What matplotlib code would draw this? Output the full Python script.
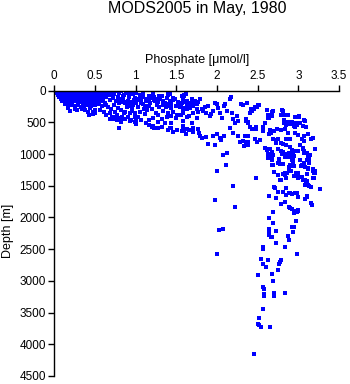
import matplotlib
matplotlib.use("Agg")
import matplotlib.pyplot as plt
import numpy as np

plt.rcParams['font.family'] = ['Liberation Sans', 'DejaVu Sans']

# Phosphate [umol/l] and depth [m] of the individual samples, grouped by layer
surf_p = [0.02, 0.05, 0.08, 0.11, 0.14, 0.17, 0.20, 0.23, 0.26, 0.29, 0.32, 0.35, 0.38, 0.41, 0.44, 0.47, 0.50, 0.53, 0.56, 0.60, 0.63, 0.67, 0.72, 0.76, 0.82, 0.88, 0.91,
          0.03, 0.06, 0.09, 0.12, 0.15, 0.18, 0.21, 0.24, 0.27, 0.30, 0.33, 0.36, 0.39, 0.42, 0.45, 0.48, 0.51, 0.54, 0.57, 0.61, 0.64, 0.68, 0.74,
          0.04, 0.07, 0.10, 0.13, 0.16, 0.19, 0.22, 0.25, 0.28, 0.31, 0.34, 0.37, 0.40, 0.43, 0.46, 0.49, 0.52, 0.55, 0.58, 0.62, 0.66, 0.70,
          0.06, 0.09, 0.12, 0.15, 0.18, 0.21, 0.24, 0.27, 0.30, 0.33, 0.36, 0.39, 0.42, 0.45, 0.48, 0.51, 0.54, 0.58, 0.63,
          0.08, 0.11, 0.14, 0.17, 0.20, 0.23, 0.27, 0.30, 0.33, 0.36, 0.40, 0.44, 0.47, 0.50, 0.55, 0.60,
          0.10, 0.14, 0.18, 0.22, 0.26, 0.30, 0.35, 0.38, 0.43, 0.48, 0.52, 0.57, 0.62,
          0.13, 0.17, 0.21, 0.25, 0.29, 0.33, 0.36, 0.41, 0.45, 0.50, 0.55, 0.59, 0.64,
          0.17, 0.19, 0.26, 0.28, 0.34, 0.38, 0.44, 0.48, 0.50, 0.56, 0.61, 0.42,
          0.43, 0.50, 0.47]
surf_d = [5, 0, 10, 3, 8, 0, 12, 4, 9, 0, 6, 11, 2, 8, 0, 10, 5, 0, 9, 3, 12, 0, 8, 2, 5, 10, 0,
          35, 30, 42, 38, 30, 45, 35, 40, 32, 44, 36, 30, 42, 38, 33, 45, 30, 40, 35, 44, 31, 38, 42,
          65, 75, 62, 70, 80, 66, 72, 60, 78, 68, 74, 62, 80, 70, 64, 76, 68, 72, 60, 78, 66, 74,
          100, 110, 96, 105, 115, 100, 108, 95, 112, 102, 110, 98, 106, 115, 100, 108, 96, 112, 104,
          135, 145, 130, 140, 150, 135, 142, 130, 148, 138, 145, 132, 150, 140, 135, 146,
          170, 185, 175, 195, 168, 182, 190, 172, 185, 178, 196, 170, 188,
          215, 250, 230, 240, 220, 255, 235, 225, 245, 230, 215, 250, 228,
          278, 315, 290, 304, 285, 304, 280, 331, 310, 304, 331, 340,
          383, 357, 370]

mix_p = [0.68, 0.73, 0.75, 0.69, 0.71, 0.75, 0.77, 0.79, 0.82, 0.83, 0.87, 0.89, 0.88, 0.93, 0.95, 0.97, 0.99, 0.99,
         0.70, 0.74, 0.78, 0.80, 0.84, 0.86, 0.90, 0.92, 0.95, 0.98, 0.72, 0.76, 0.80, 0.85, 0.66, 0.70, 0.78, 0.82, 0.90, 0.96,
         0.64, 0.68, 0.73, 0.80, 0.86, 0.91, 0.94]
mix_d = [147, 225, 331, 357, 410, 410, 462, 593, 489, 410, 331, 252, 173, 357, 252, 225, 410, 489,
         20, 60, 95, 40, 120, 70, 30, 100, 60, 140, 120, 160, 200, 180, 260, 290, 270, 300, 210, 180,
         380, 440, 455, 430, 360, 420, 470]

thermo_p = [0.99, 1.01, 1.05, 1.09, 1.16, 1.21, 1.23, 1.29, 1.40, 1.59, 1.62,
            0.99, 1.02, 1.05, 1.09, 1.13, 1.16, 1.23, 1.27, 1.30, 1.34, 1.38, 1.42, 1.46, 1.52, 1.57, 1.61, 1.65, 1.69, 1.73, 1.77,
            0.97, 1.03, 1.07, 1.10, 1.17, 1.20, 1.26, 1.29, 1.33, 1.37, 1.41, 1.44, 1.50, 1.54, 1.58, 1.63, 1.67, 1.71, 1.75,
            0.96, 0.99, 1.05, 1.11, 1.14, 1.25, 1.28, 1.34, 1.40, 1.46, 1.51, 1.58, 1.65, 1.70, 1.76,
            1.03, 1.07, 1.13, 1.21, 1.27, 1.32, 1.38, 1.44, 1.50, 1.58, 1.63, 1.69, 1.75,
            1.01, 1.16, 1.20, 1.23, 1.32, 1.40, 1.43, 1.46, 1.51, 1.57, 1.59, 1.62, 1.66, 1.70, 1.76, 1.78,
            0.79, 0.81, 0.85, 0.87, 0.91, 0.93, 0.97, 1.01, 1.03, 1.05, 1.07, 1.09, 1.12, 1.14, 1.18, 1.20, 1.24, 1.26, 1.28,
            1.32, 1.36, 1.38, 1.42, 1.44, 1.48, 1.52, 1.56, 1.58, 1.60, 1.40, 1.42, 1.46,
            0.77, 0.80, 0.83, 0.87, 0.93, 1.01, 1.16, 1.21, 1.28, 1.36, 1.42, 1.44, 1.50, 1.56, 1.58,
            1.57, 1.58, 1.54, 1.63, 1.65, 1.67, 1.69, 1.71, 1.73, 1.75, 1.61, 1.63, 1.60,
            1.79, 1.81, 1.83, 1.85, 1.87, 1.89, 1.91, 1.93, 1.95, 1.97, 2.00, 2.01, 2.04, 2.06, 2.08, 2.10, 2.12, 2.16,
            2.18, 2.20, 2.22, 2.24, 2.26, 2.30, 2.32, 2.36, 2.38, 2.17,
            1.58, 1.63, 1.71, 1.79, 1.81, 1.87, 1.95, 2.00, 2.04, 2.08, 2.16, 2.20, 2.26, 2.32, 2.36, 2.38]
thermo_d = [5, 41, 68, 52, 84, 52, 94, 84, 68, 78, 57,
            120, 147, 136, 105, 162, 126, 147, 173, 136, 157, 120, 189, 147, 178, 199, 157, 189, 136, 210, 178,
            226, 262, 199, 283, 241, 294, 220, 262, 231, 252, 210, 278, 241, 252, 294, 231, 262, 220, 283,
            315, 357, 331, 368, 304, 346, 383, 315, 357, 331, 383, 346, 399, 357, 336,
            420, 462, 504, 436, 489, 452, 420, 504, 436, 473, 410, 504, 436,
            525, 536, 567, 594, 567, 620, 594, 652, 620, 636, 630, 683, 620, 657, 599, 673,
            5, 136, 84, 189, 163, 241, 58, 189, 136, 84, 163, 215, 241, 136, 189, 110, 163, 215, 136,
            84, 189, 241, 163, 215, 136, 189, 241, 110, 163, 31, 58, 110,
            389, 425, 452, 452, 478, 478, 462, 557, 583, 504, 583, 399, 425, 389, 557,
            84, 178, 241, 162, 215, 268, 189, 241, 162, 215, 268, 293, 68,
            136, 293, 320, 252, 346, 241, 399, 373, 320, 189, 215, 268, 346, 425, 241, 215, 320, 136,
            346, 451, 504, 399, 478, 215, 230, 451, 504, 100,
            583, 609, 583, 714, 741, 725, 714, 688, 741, 714, 583, 662, 714, 793, 820, 714]

col_p = [2.37, 2.43, 2.45, 2.47, 2.50, 2.36, 2.38, 2.40, 2.43, 2.48, 2.48, 2.56, 2.57, 2.57, 2.59, 2.62, 2.64, 2.67, 2.69, 2.61,
         2.80, 2.82, 2.79, 2.82, 2.82, 2.87, 2.90, 2.92, 2.96, 2.98, 2.95, 3.01, 3.02, 3.08, 3.05,
         2.65, 2.70, 2.74, 2.79, 2.84, 2.87, 2.96, 3.00, 3.07, 3.12, 3.18, 3.15,
         2.34, 2.38, 2.47, 2.49, 2.53, 2.56, 2.64, 2.66, 2.69, 2.73, 2.75, 2.78, 2.81, 2.85, 2.90, 2.72,
         2.59, 2.65, 2.68, 2.75, 2.81, 2.92, 2.96, 3.02, 3.05, 3.07, 3.10, 3.20, 2.85, 2.90, 3.04, 3.07,
         2.51, 2.49, 2.42, 2.40, 2.62, 2.62, 2.67, 2.68, 2.81, 2.87, 2.85, 2.96, 3.01, 2.94, 2.99, 3.07, 3.09, 2.96]
col_d = [199, 325, 284, 252, 230, 473, 494, 577, 604, 572, 609, 567, 641, 598, 509, 378, 435, 331, 325, 304,
         309, 383, 388, 467, 504, 488, 520, 488, 509, 541, 557, 410, 504, 473, 557,
         625, 636, 609, 620, 609, 662, 662, 704, 714, 688, 741, 757,
         714, 809, 767, 804, 782, 636, 688, 662, 767, 782, 757, 820, 846, 856, 883, 820,
         904, 915, 967, 925, 967, 935, 951, 862, 899, 951, 977, 915, 767, 767, 767, 793,
         225, 252, 294, 357, 399, 435, 357, 399, 315, 388, 541, 420, 399, 515, 515, 462, 567, 567]

mid_p = [2.61, 2.78, 2.92, 3.00, 2.69, 2.80, 2.83, 2.94, 3.12, 3.14, 2.62, 2.67, 2.75, 2.77, 2.92, 2.93, 3.02, 3.07, 3.04, 3.13,
         2.68, 2.90, 2.94, 3.06, 3.12, 3.18, 3.20, 2.48, 2.75, 2.81, 2.84, 2.89, 2.85, 2.79, 2.98, 3.00, 3.04, 3.08, 3.10, 3.12,
         3.08, 3.16, 3.18, 3.26, 2.70, 2.75, 2.81, 2.88, 2.90, 2.98, 2.64, 2.72, 3.00, 3.11, 3.08, 3.16, 3.17, 2.83, 2.79, 2.88,
         2.92, 2.96, 2.98, 2.94, 3.00, 2.69, 2.64, 2.69, 2.97, 2.94,
         2.62, 2.65, 2.63, 2.69, 2.93, 2.93, 2.93, 2.93, 2.93, 2.88, 2.84, 2.88, 2.89, 2.76, 2.76, 2.68, 2.63, 3.07, 3.06, 2.99,
         3.10, 3.13, 3.13, 3.03, 3.08, 3.11, 3.12, 3.18, 3.00, 2.77, 2.70, 2.97, 2.94, 2.91, 2.88, 2.88, 2.90, 2.81, 3.19, 3.19,
         3.20, 3.13, 3.09, 3.05, 3.10, 2.99, 3.01, 2.71, 2.85, 2.84, 2.86, 2.75, 2.85, 2.92, 2.96, 3.11, 2.90, 2.94, 2.99]
mid_d = [935, 951, 962, 946, 1014, 998, 998, 1030, 1030, 1014, 1067, 1088, 1135, 1156, 1093, 1146, 1093, 1135, 1172, 1146,
         1167, 1188, 1188, 1188, 1224, 1262, 1303, 1382, 1330, 1314, 1293, 1262, 1372, 1409, 1340, 1303, 1366, 1409, 1461, 1487,
         1487, 1514, 1382, 1550, 1524, 1593, 1593, 1618, 1618, 1618, 1656, 1697, 1682, 1661, 1713, 1776, 1803, 1751, 1792, 1839,
         1871, 1892, 1908, 1934, 1882, 1908, 2013, 2082, 2055, 2155,
         925, 920, 998, 1177, 962, 993, 1046, 1072, 1120, 1046, 1051, 988, 998, 1072, 1135, 1025, 1051, 977, 920, 951,
         1098, 1072, 1125, 1193, 1209, 1313, 1230, 1235, 1313, 1408, 1282, 1298, 1340, 1266, 1250, 1198, 1167, 1150, 1382, 1300,
         1270, 1503, 1460, 1413, 1430, 1382, 1361, 1530, 1530, 1330, 1300, 1598, 1640, 1625, 1618, 1672, 1855, 1924, 1893]

deep_p = [2.69, 2.97, 2.64, 2.73, 2.64, 2.67, 2.87, 2.89, 2.92, 2.95, 2.93, 2.73, 2.56, 2.56, 2.84, 2.98, 2.54, 2.62, 2.79,
          2.56, 2.76, 2.60, 2.75, 2.50, 2.67, 2.69, 2.56, 2.58, 2.58, 2.58, 2.70, 2.70, 2.83, 2.56, 2.51, 2.50, 2.51, 2.54,
          2.65, 2.46, 2.64, 2.64, 2.66, 2.77]
deep_d = [2082, 2060, 2202, 2218, 2281, 2312, 2292, 2360, 2155, 2155, 2233, 2407, 2460, 2492, 2470, 2576, 2655, 2675, 2675,
          2738, 2728, 2786, 2833, 2912, 2891, 3006, 3101, 3133, 3207, 3233, 3196, 3233, 3196, 3443, 3590, 3685, 3696, 3722,
          3727, 4158, 2187, 2266, 2303, 2700]

stray_p = [2.12, 2.07, 2.00, 2.11, 2.20, 1.98, 2.22, 2.02, 2.07, 2.00, 1.89, 1.98, 2.05, 2.28, 2.33, 2.36, 2.38]
stray_d = [988, 1009, 1267, 1177, 1508, 1724, 1834, 2195, 2190, 2581, 841, 862, 783, 804, 872, 804, 857]

phosphate = np.concatenate([surf_p, mix_p, thermo_p, col_p, mid_p, deep_p, stray_p])
depth = np.concatenate([surf_d, mix_d, thermo_d, col_d, mid_d, deep_d, stray_d])

x_ticks = [0, 0.5, 1, 1.5, 2, 2.5, 3, 3.5]
x_tick_labels = ['0', '0.5', '1', '1.5', '2', '2.5', '3', '3.5']
y_ticks = [0, 500, 1000, 1500, 2000, 2500, 3000, 3500, 4000, 4500]

fig = plt.figure(figsize=(3.5, 3.84), dpi=100)
ax = fig.add_axes([0.155, 0.021, 0.814, 0.743])

ax.scatter(phosphate, depth, s=5.5, marker='s', c='#0000ff', linewidths=0,
           antialiased=False)

ax.set_xlim(0, 3.5)
ax.set_ylim(4500, 0)

for side in ('right', 'bottom'):
    ax.spines[side].set_visible(False)
for side in ('left', 'top'):
    ax.spines[side].set_linewidth(1.0)

ax.xaxis.set_ticks_position('top')
ax.xaxis.set_label_position('top')
ax.set_xticks(x_ticks)
ax.set_xticklabels(x_tick_labels)
ax.set_yticks(y_ticks)
ax.tick_params(axis='both', direction='out', length=4.5, width=1.0, labelsize=8.5, pad=1.5)

ax.set_xlabel('Phosphate [\u03bcmol/l]', fontsize=9)
ax.xaxis.set_label_coords(0.5, 1.108)
ax.xaxis.label.set_verticalalignment('center')

ax.set_ylabel('Depth [m]', fontsize=9)
ax.yaxis.set_label_coords(-0.164, 0.51)
ax.yaxis.label.set_verticalalignment('center')

fig.text(0.563, 0.978, 'MODS2005 in May, 1980', ha='center', va='center', fontsize=11.5)

fig.savefig('out.png', dpi=100)
